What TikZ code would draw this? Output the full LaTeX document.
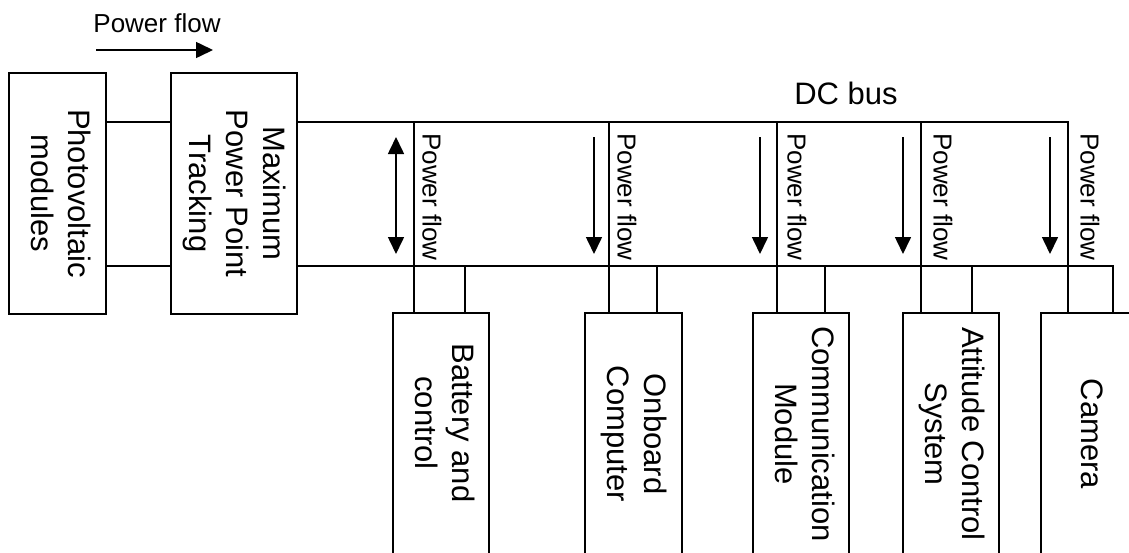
\documentclass[tikz,border=0pt]{standalone}
\usepackage{fontspec}
\setmainfont{Liberation Sans}
\usetikzlibrary{arrows.meta}

\newcommand{\sidetext}[2][0pt]{\rotatebox{-90}{\begin{tabular}{@{}c@{}}#2\end{tabular}\hspace{#1}}}

\begin{document}
\begin{tikzpicture}[
  x=1pt,y=-1pt,
  >={Triangle[width=16pt,length=17pt]},
  block/.style={draw=black,line width=1.6pt,inner sep=0pt,font=\fontsize{31}{37}\selectfont},
  wire/.style={draw=black,line width=1.6pt},
  flowlabel/.style={inner sep=0pt,font=\fontsize{26}{30}\selectfont},
  buslabel/.style={inner sep=0pt,font=\fontsize{31}{37}\selectfont}
]
\useasboundingbox (0,0) rectangle (1129,552);

% source side
\node[block,minimum width=97pt,minimum height=241pt] (pv) at (57.5,193.5) {\sidetext{Photovoltaic\\modules}};
\node[block,minimum width=126pt,minimum height=241pt] (mppt) at (234,193.5) {\sidetext{Maximum\\Power Point\\Tracking}};

% loads
\node[block,minimum width=96pt,minimum height=242pt] (bat) at (441,434) {\sidetext[22pt]{Battery and\\control}};
\node[block,minimum width=97pt,minimum height=242pt] (obc) at (633.5,434) {\sidetext{Onboard\\Computer}};
\node[block,minimum width=96pt,minimum height=242pt] (com) at (801,434) {\sidetext{Communication\\Module}};
\node[block,minimum width=96pt,minimum height=242pt] (acs) at (951,434) {\sidetext{Attitude Control\\System}};
\node[block,minimum width=96pt,minimum height=242pt] (cam) at (1089,434) {\sidetext{Camera}};

\node[flowlabel,anchor=base] (pftop) at (157,32) {Power flow};
\node[buslabel,anchor=base] (dcbus) at (846,104) {DC bus};

\coordinate (pfa) at (96,50);
\coordinate (pfb) at (213,50);
\draw[wire,->] (pfa) -- (pfb);

% taps
\foreach \n/\a/\b in {bat/414/465, obc/609/657, com/777/825, acs/921/972, cam/1068/1113} {
  \coordinate (up\n) at (\a,122);
  \coordinate (lo\n) at (\b,266);
  \draw[wire] (up\n) -- (up\n |- \n.north);
  \draw[wire] (lo\n) -- (lo\n |- \n.north);
}

% bus
\draw[wire] (pv.east |- upbat) -- (mppt.west |- upbat);
\draw[wire] (pv.east |- lobat) -- (mppt.west |- lobat);
\draw[wire] (mppt.east |- upbat) -- (upcam) -- (upcam |- cam.north);
\draw[wire] (mppt.east |- lobat) -- (locam) -- (locam |- cam.north);

% flow arrows
\coordinate (fs0) at (396,137);
\coordinate (fe0) at (396,254);
\draw[wire,<->] (fs0) -- (fe0);
\foreach \i/\x in {1/594, 2/760, 3/903, 4/1050} {
  \coordinate (fs\i) at (\x,137);
  \coordinate (fe\i) at (\x,254);
  \draw[wire,->] (fs\i) -- (fe\i);
}
\foreach \i/\x in {1/432, 2/627, 3/797, 4/943, 5/1090}
  \node[flowlabel,rotate=-90] (pf\i) at (\x,197) {Power flow};
\end{tikzpicture}
\end{document}
